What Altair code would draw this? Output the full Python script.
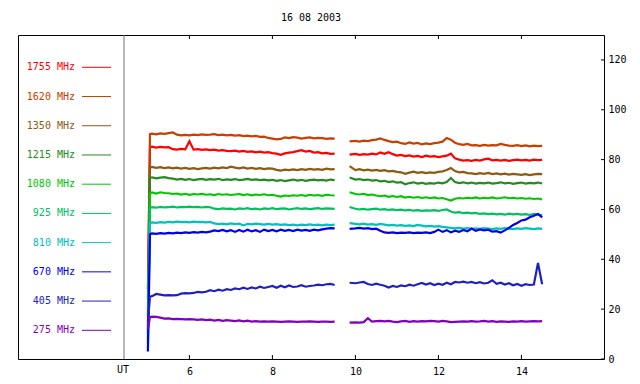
import altair as alt
import pandas as pd

title_text = "16 08 2003"
freqs = ["1755 MHz", "1620 MHz", "1350 MHz", "1215 MHz", "1080 MHz",
         "925 MHz", "810 MHz", "670 MHz", "405 MHz", "275 MHz"]
colors = ["#ff0000", "#c84000", "#8c5a10", "#228b22", "#00c800",
          "#00c060", "#00c0c0", "#0000f0", "#2020c0", "#8000c0"]
widths = [2.2, 2.2, 2.2, 2.2, 2.2, 2.0, 2.0, 2.0, 1.5, 1.5]

t1 = [5.0, 5.05, 5.1, 5.2, 5.3, 5.4, 5.5, 5.6, 5.7, 5.8, 5.9, 6.0, 6.1, 6.2, 6.3, 6.4,
      6.5, 6.6, 6.7, 6.8, 6.9, 7.0, 7.1, 7.2, 7.3, 7.4, 7.5, 7.6, 7.7, 7.8, 7.9, 8.0,
      8.1, 8.2, 8.3, 8.4, 8.5, 8.6, 8.7, 8.8, 8.9, 9.0, 9.1, 9.2, 9.3, 9.4, 9.5]
t2 = [9.86, 10.0, 10.1, 10.2, 10.3, 10.4, 10.5, 10.6, 10.7, 10.8, 10.9, 11.0, 11.1, 11.2,
      11.3, 11.4, 11.5, 11.6, 11.7, 11.8, 11.9, 12.0, 12.1, 12.2, 12.3, 12.4, 12.5, 12.6,
      12.7, 12.8, 12.9, 13.0, 13.1, 13.2, 13.3, 13.4, 13.5, 13.6, 13.7, 13.8, 13.9, 14.0,
      14.1, 14.2, 14.3, 14.4, 14.5]

s1755_a = [28, 85.0, 85.2, 84.8, 85.1, 84.9, 85.0, 84.2, 84.0, 84.3, 84.1, 87.4, 84.0, 84.2, 83.9, 84.1,
           83.8, 84.0, 83.6, 83.8, 83.5, 83.4, 83.6, 83.2, 83.5, 83.1, 83.3, 82.9, 83.2, 82.8, 83.0, 82.6,
           82.4, 81.9, 82.5, 82.8, 83.0, 83.4, 83.8, 83.2, 83.5, 82.8, 83.0, 82.5, 82.7, 82.3, 82.4]
s1755_b = [82.0, 82.3, 81.9, 82.2, 82.0, 82.4, 82.1, 82.9, 82.3, 83.0, 82.2, 81.6, 81.9, 81.4, 81.7, 81.2,
           81.5, 81.0, 81.6, 81.2, 81.4, 81.0, 81.3, 81.6, 82.4, 80.5, 80.0, 79.6, 79.8, 79.5, 79.9, 79.6,
           80.1, 80.4, 79.7, 79.9, 79.6, 79.9, 79.5, 79.8, 80.0, 79.7, 79.9, 79.6, 80.0, 79.8, 79.9]
s1620_a = [24, 90.2, 90.4, 90.1, 90.5, 90.3, 90.6, 90.9, 90.0, 89.7, 89.9, 89.7, 90.0, 89.8, 90.1, 89.9,
           90.0, 90.2, 89.8, 90.0, 89.7, 89.9, 89.6, 89.8, 89.4, 89.6, 89.3, 89.5, 89.1, 89.2, 88.7, 88.4,
           88.1, 88.3, 88.9, 88.6, 89.0, 88.8, 88.4, 88.7, 88.9, 88.5, 88.7, 88.6, 88.3, 88.5, 88.4]
s1620_b = [87.3, 87.5, 87.2, 87.6, 87.4, 87.8, 88.0, 88.5, 87.9, 87.4, 87.0, 87.2, 86.6, 86.3, 86.9, 86.4,
           86.7, 86.1, 86.5, 86.2, 86.6, 86.8, 87.2, 88.7, 88.0, 86.8, 86.2, 85.9, 86.3, 85.7, 85.8, 85.5,
           85.9, 85.6, 85.8, 85.7, 86.3, 85.9, 85.6, 85.5, 85.8, 85.4, 85.7, 85.3, 85.6, 85.4, 85.5]
s1350_a = [17, 76.8, 77.1, 76.7, 77.0, 76.6, 76.9, 76.5, 76.8, 76.4, 76.7, 76.3, 76.6, 76.2, 76.5, 76.7,
           76.4, 76.8, 76.5, 76.9, 76.6, 77.2, 76.8, 76.5, 76.9, 76.4, 76.7, 76.3, 76.6, 76.2, 76.5, 76.4,
           75.9, 75.6, 76.0, 75.8, 76.1, 75.8, 76.2, 75.9, 76.3, 76.0, 76.2, 75.9, 76.4, 76.1, 76.2]
s1350_b = [77.4, 75.8, 76.2, 75.7, 76.0, 75.6, 75.9, 75.5, 75.8, 75.3, 75.5, 75.1, 74.9, 74.3, 74.8, 75.2,
           74.7, 75.0, 74.6, 74.9, 74.7, 75.1, 75.3, 75.8, 76.6, 75.4, 74.9, 75.1, 74.6, 74.5, 74.2, 74.6,
           74.3, 74.7, 74.2, 74.5, 74.1, 74.4, 74.0, 74.3, 74.1, 73.9, 74.2, 73.8, 74.1, 74.3, 74.2]
s1215_a = [12, 72.6, 72.9, 72.5, 72.8, 73.0, 72.6, 72.4, 72.0, 72.3, 71.9, 72.2, 71.8, 72.1, 72.3, 71.9,
           72.2, 72.0, 72.3, 71.8, 72.1, 71.9, 72.2, 71.8, 72.0, 72.3, 71.9, 72.1, 71.8, 72.0, 71.7, 71.9,
           71.5, 71.8, 71.4, 71.7, 72.0, 71.6, 71.9, 71.5, 71.8, 72.0, 71.7, 71.9, 71.6, 72.0, 71.8]
s1215_b = [72.8, 72.0, 72.2, 71.8, 72.0, 71.6, 71.8, 71.3, 71.5, 71.0, 71.3, 70.8, 71.0, 70.1, 70.6, 70.9,
           70.4, 70.7, 70.3, 70.6, 70.4, 70.8, 70.5, 71.0, 72.6, 71.0, 70.6, 70.9, 70.5, 70.8, 70.4, 70.7,
           70.5, 70.8, 70.4, 70.6, 70.9, 70.5, 70.7, 70.3, 70.6, 70.8, 70.4, 70.7, 70.5, 70.8, 70.4]
s1080_a = [8, 66.5, 66.8, 66.4, 66.9, 66.6, 66.5, 66.2, 66.4, 66.0, 66.3, 65.9, 66.2, 66.0, 66.3, 65.9,
           66.1, 65.8, 66.2, 65.9, 66.1, 65.8, 66.0, 66.2, 65.8, 66.1, 65.7, 66.0, 65.8, 66.1, 65.7, 65.9,
           65.5, 65.2, 65.6, 65.4, 65.7, 65.5, 65.8, 65.5, 65.9, 65.6, 65.8, 65.5, 65.9, 65.7, 65.6]
s1080_b = [66.9, 66.2, 66.0, 66.3, 65.8, 66.0, 65.6, 65.3, 65.6, 65.1, 65.4, 65.0, 65.3, 64.8, 65.1, 64.7,
           65.0, 64.6, 64.9, 64.5, 64.8, 64.4, 64.6, 64.1, 63.6, 64.3, 64.6, 64.4, 64.7, 64.5, 64.8, 64.4,
           64.7, 64.5, 64.8, 64.4, 64.6, 64.9, 64.5, 64.7, 64.4, 64.6, 64.3, 64.5, 64.2, 64.4, 64.0]
s925_a = [10, 60.6, 60.9, 60.7, 61.0, 60.8, 60.9, 61.1, 60.8, 61.0, 60.9, 61.1, 60.9, 61.0, 60.8, 61.0,
          60.9, 60.3, 60.1, 60.4, 60.2, 60.3, 60.0, 60.4, 60.2, 60.5, 60.1, 60.3, 60.0, 60.4, 60.2, 60.5,
          60.1, 60.3, 60.4, 60.0, 60.3, 60.5, 60.2, 60.4, 60.1, 60.3, 60.5, 60.2, 60.4, 60.3, 60.2]
s925_b = [61.0, 60.3, 60.0, 60.2, 59.9, 60.1, 60.3, 59.9, 60.1, 59.8, 60.0, 59.7, 59.9, 59.6, 59.8, 59.5,
          59.7, 59.4, 59.6, 59.5, 59.7, 59.4, 59.8, 60.0, 59.2, 58.7, 58.9, 58.5, 58.7, 58.4, 58.6, 58.2,
          58.4, 58.1, 58.3, 58.0, 58.2, 57.9, 58.3, 58.0, 58.2, 57.9, 58.1, 57.8, 58.2, 57.9, 57.6]
s810_a = [6, 54.5, 54.8, 54.6, 54.9, 54.7, 55.0, 54.8, 55.1, 54.9, 55.0, 54.8, 55.1, 54.9, 55.0, 54.8,
          55.0, 54.4, 54.1, 54.3, 54.0, 54.4, 54.1, 54.3, 53.6, 54.2, 54.0, 54.3, 54.1, 53.9, 54.2, 53.9,
          54.1, 53.8, 54.0, 53.7, 53.9, 53.6, 53.9, 53.7, 54.0, 53.7, 53.9, 53.6, 53.9, 53.7, 53.9]
s810_b = [54.5, 54.2, 54.0, 54.3, 53.9, 54.1, 53.8, 54.2, 53.9, 53.6, 53.8, 53.5, 53.7, 53.4, 53.6, 53.3,
          53.8, 53.5, 53.2, 53.4, 53.1, 53.3, 53.0, 52.8, 52.6, 52.4, 52.6, 52.3, 52.5, 52.2, 52.4, 52.2,
          52.5, 52.3, 52.1, 52.4, 52.2, 52.5, 52.3, 52.1, 52.4, 52.2, 52.5, 52.3, 52.1, 52.4, 52.2]
s670_a = [3, 50.1, 50.4, 50.2, 50.5, 50.3, 50.6, 50.4, 50.7, 50.5, 50.8, 50.6, 50.9, 50.7, 51.0, 50.8,
          51.1, 51.6, 51.3, 51.8, 51.2, 51.7, 51.0, 51.8, 51.1, 51.9, 51.2, 51.7, 51.0, 51.9, 51.3, 51.8,
          51.2, 51.9, 51.4, 51.8, 51.3, 51.9, 51.5, 51.8, 51.4, 51.9, 51.6, 52.0, 52.3, 52.5, 52.4]
s670_b = [52.2, 52.4, 52.6, 52.3, 52.5, 52.1, 52.3, 51.5, 50.8, 50.6, 50.8, 50.5, 50.7, 50.6, 50.8, 50.5,
          50.7, 50.6, 50.8, 50.5, 51.0, 51.9, 51.0, 51.7, 50.8, 51.5, 51.0, 51.8, 51.2, 52.3, 51.4, 52.0,
          51.6, 51.9, 51.1, 51.3, 50.7, 51.6, 52.6, 53.8, 54.6, 55.6, 55.9, 56.9, 57.5, 58.2, 56.8]
s405_a = [15, 25.0, 25.2, 26.1, 25.8, 25.5, 25.6, 25.5, 25.6, 26.2, 26.4, 26.3, 26.5, 26.9, 26.7, 27.0,
          27.6, 27.2, 27.8, 27.4, 28.0, 27.7, 28.3, 28.0, 28.6, 28.1, 28.7, 28.3, 29.0, 28.5, 28.9, 29.3,
          28.6, 29.4, 28.8, 29.5, 28.9, 29.1, 29.6, 29.0, 29.3, 29.5, 29.8, 29.6, 30.0, 30.1, 29.7]
s405_b = [30.6, 30.4, 30.7, 30.9, 30.1, 29.7, 30.2, 29.8, 29.4, 28.7, 29.3, 28.9, 29.5, 29.2, 29.8, 29.4,
          30.0, 30.5, 29.9, 30.4, 29.7, 30.2, 29.8, 30.6, 30.0, 30.9, 30.7, 31.0, 30.6, 30.9, 30.4, 30.8,
          30.3, 30.6, 31.6, 30.2, 30.6, 29.9, 30.4, 29.6, 30.1, 29.4, 30.0, 29.7, 29.9, 38.5, 30.0]
s275_a = [12, 16.8, 17.0, 16.9, 16.6, 16.2, 16.3, 16.0, 16.1, 16.0, 15.9, 16.0, 15.9, 15.7, 15.9, 15.6,
          15.8, 15.4, 15.7, 15.3, 15.6, 15.4, 15.2, 15.5, 15.1, 15.4, 15.0, 15.2, 15.0, 15.1, 15.0, 15.1,
          15.0, 14.9, 15.0, 15.1, 15.0, 14.9, 15.0, 15.0, 15.1, 15.0, 14.9, 15.0, 15.0, 14.9, 15.0]
s275_b = [14.6, 14.7, 14.6, 14.8, 16.4, 15.0, 15.2, 15.3, 15.1, 15.3, 15.0, 14.8, 15.1, 15.3, 14.9, 15.2,
          15.0, 15.2, 15.1, 15.3, 15.2, 15.0, 15.3, 15.1, 14.8, 14.9, 15.0, 15.1, 15.0, 15.2, 15.0, 15.1,
          15.3, 15.0, 15.2, 14.9, 15.1, 15.0, 14.9, 15.1, 15.0, 15.2, 15.0, 15.1, 15.2, 15.1, 15.2]

x_ticks = [6, 8, 10, 12, 14]
y_ticks = [0, 20, 40, 60, 80, 100, 120]

series = {
    "1755 MHz": (s1755_a, s1755_b), "1620 MHz": (s1620_a, s1620_b),
    "1350 MHz": (s1350_a, s1350_b), "1215 MHz": (s1215_a, s1215_b),
    "1080 MHz": (s1080_a, s1080_b), "925 MHz": (s925_a, s925_b),
    "810 MHz": (s810_a, s810_b), "670 MHz": (s670_a, s670_b),
    "405 MHz": (s405_a, s405_b), "275 MHz": (s275_a, s275_b),
}

rows = []
for f in freqs:
    a, b = series[f]
    assert len(a) == len(t1), f
    assert len(b) == len(t2), f
    for t, v in zip(t1, a):
        rows.append({"ut": t, "val": v, "freq": f, "seg": f + " a"})
    for t, v in zip(t2, b):
        rows.append({"ut": t, "val": v, "freq": f, "seg": f + " b"})
df = pd.DataFrame(rows)

MONO = "DejaVu Sans Mono"
W, H = 586, 324
xscale = alt.Scale(domain=[1.87, 15.99], nice=False, zero=False)
yscale = alt.Scale(domain=[0, 130], nice=False, zero=False)
cscale = alt.Scale(domain=freqs, range=colors)
legscale = alt.Scale(type="point", domain=freqs, range=[32.3, 295.3], padding=0)

xaxis = alt.Axis(values=x_ticks, format="d", ticks=False, domain=False, grid=False,
                 labelPadding=7, labelFont=MONO, labelFontSize=10,
                 labelColor="black", title=None)

lines = alt.Chart(df).mark_line().encode(
    x=alt.X("ut:Q", scale=xscale, axis=xaxis),
    y=alt.Y("val:Q", scale=yscale,
            axis=alt.Axis(orient="right", values=y_ticks, ticks=False, domain=False, grid=False,
                          labelPadding=4, labelFont=MONO, labelFontSize=10,
                          labelColor="black", title=None)),
    color=alt.Color("freq:N", scale=cscale, legend=None),
    strokeWidth=alt.StrokeWidth("freq:N", scale=alt.Scale(domain=freqs, range=widths), legend=None),
    detail="seg:N",
)

xt = pd.DataFrame({"ut": x_ticks})
ticks_bottom = alt.Chart(xt).mark_rule(color="black", strokeWidth=1).encode(
    x=alt.X("ut:Q", scale=xscale, axis=xaxis), y=alt.value(H - 4), y2=alt.value(H))
ticks_top = alt.Chart(xt).mark_rule(color="black", strokeWidth=1).encode(
    x=alt.X("ut:Q", scale=xscale, axis=xaxis), y=alt.value(0), y2=alt.value(4))

yt = pd.DataFrame({"v": y_ticks})
ticks_right = alt.Chart(yt).mark_rule(color="black", strokeWidth=1).encode(
    y=alt.Y("v:Q", scale=yscale, axis=None), x=alt.value(W - 3), x2=alt.value(W))

one = pd.DataFrame({"k": [0]})
sep = alt.Chart(one).mark_rule(color="#707070", strokeWidth=1).encode(
    x=alt.value(106), y=alt.value(0), y2=alt.value(H))
ut_label = alt.Chart(one).mark_text(text="UT", font=MONO, fontSize=10, color="black",
                                    baseline="middle", align="center").encode(
    x=alt.value(105), y=alt.value(H + 11))

leg = pd.DataFrame({"freq": freqs})
leg_text = alt.Chart(leg).mark_text(font=MONO, fontSize=10, align="right", baseline="middle").encode(
    x=alt.value(57),
    y=alt.Y("freq:N", scale=legscale, axis=None),
    text="freq:N",
    color=alt.Color("freq:N", scale=cscale, legend=None),
)
leg_rule = alt.Chart(leg).mark_rule(strokeWidth=1).encode(
    x=alt.value(64), x2=alt.value(93),
    y=alt.Y("freq:N", scale=legscale, axis=None),
    color=alt.Color("freq:N", scale=cscale, legend=None),
)

chart = alt.layer(
    sep, lines, ticks_bottom, ticks_top, ticks_right, ut_label, leg_text, leg_rule
).resolve_scale(y="independent").properties(
    width=W, height=H,
    autosize=alt.AutoSizeParams(type="none"),
    padding={"left": 10, "top": 27, "right": 28, "bottom": 17},
    title=alt.Title(title_text, font=MONO, fontSize=10, fontWeight="normal",
                    anchor="middle", offset=12, color="black"),
).configure(background="white").configure_view(stroke="black", strokeWidth=1)

chart.save("out.html", embed_options={"renderer": "svg", "actions": False})
